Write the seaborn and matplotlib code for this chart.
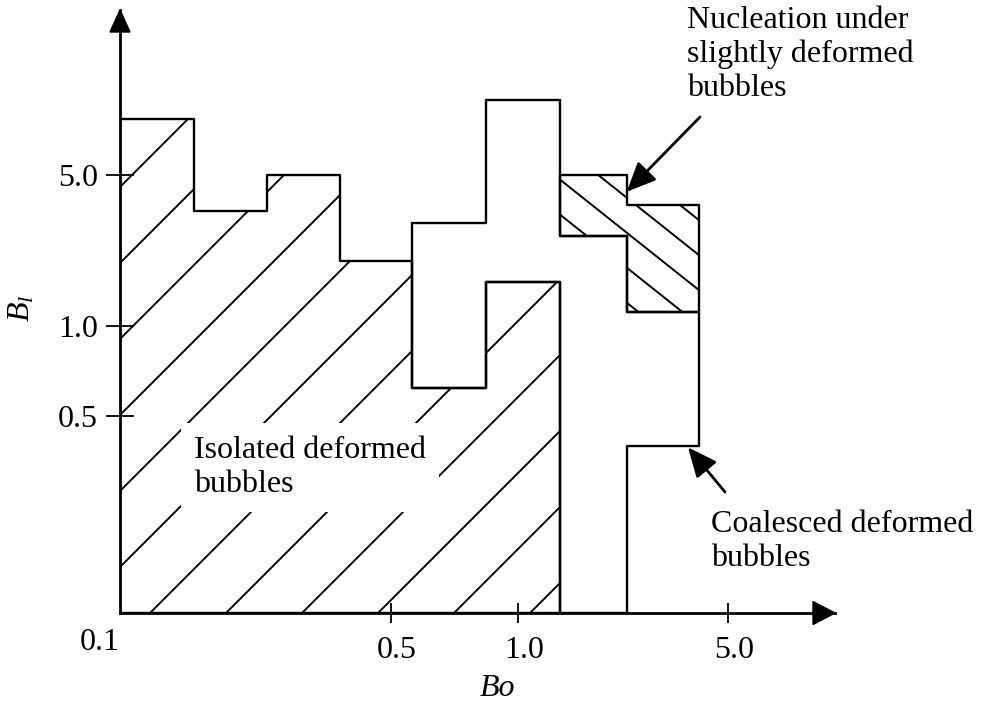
import numpy as np
import pandas as pd
import matplotlib
matplotlib.use("Agg")
import matplotlib.pyplot as plt
import matplotlib.transforms as mtransforms
from matplotlib.patches import Polygon
from matplotlib.collections import LineCollection
import seaborn as sns

# ---- regime boundaries: closed outlines in (Bo, Bl) ----
isolated_bo = [0.1, 0.155, 0.155, 0.24, 0.24, 0.37, 0.37, 0.56, 0.56, 0.84, 0.84, 1.38, 1.38, 0.1, 0.1]
isolated_bl = [9.0, 9.0, 3.4, 3.4, 5.0, 5.0, 2.0, 2.0, 0.62, 0.62, 1.6, 1.6, 0.1, 0.1, 9.0]

coalesced_bo = [0.56, 0.84, 0.84, 1.38, 1.38, 2.3, 2.3, 4.0, 4.0, 2.3, 2.3, 1.38, 1.38, 0.84, 0.84, 0.56, 0.56]
coalesced_bl = [3.0, 3.0, 11.0, 11.0, 2.6, 2.6, 1.16, 1.16, 0.39, 0.39, 0.1, 0.1, 1.6, 1.6, 0.62, 0.62, 3.0]

nucleation_bo = [1.38, 2.3, 2.3, 4.0, 4.0, 2.3, 2.3, 1.38, 1.38]
nucleation_bl = [5.0, 5.0, 3.6, 3.6, 1.16, 1.16, 2.6, 2.6, 5.0]

region_names = ["Isolated deformed\nbubbles",
                "Coalesced deformed\nbubbles",
                "Nucleation under\nslightly deformed\nbubbles"]

x_ticks = [0.5, 1.0, 5.0]
x_tick_labels = ["0.5", "1.0", "5.0"]
y_ticks = [0.5, 1.0, 5.0]
y_tick_labels = ["0.5", "1.0", "5.0"]
origin_label = "0.1"

# ---- style ----
sns.set_theme(style="white")
plt.rcParams["font.family"] = ["Liberation Serif", "DejaVu Serif"]
plt.rcParams["mathtext.fontset"] = "custom"
plt.rcParams["mathtext.rm"] = "Liberation Serif"
plt.rcParams["mathtext.it"] = "Liberation Serif:italic"
for key in ("text.color", "axes.labelcolor", "xtick.color", "ytick.color", "axes.edgecolor"):
    plt.rcParams[key] = "black"
FS = 23

W, H = 985, 704
fig = plt.figure(figsize=(W / 100, H / 100), dpi=100)
fig.patch.set_facecolor("white")
AX_L, AX_B, AX_W, AX_H = 120, 613, 715, 603   # axes box in pixels (left, bottom from top, width, height)
ax = fig.add_axes([AX_L / W, (H - AX_B) / H, AX_W / W, AX_H / H])
ax.set_facecolor("white")


# ---- schematic log axes: piecewise log scale pinned at the tick values ----
def schematic_log(vals, pos):
    lv = np.log10(np.asarray(vals, float))
    p = np.asarray(pos, float)
    s0 = (p[1] - p[0]) / (lv[1] - lv[0])
    s1 = (p[-1] - p[-2]) / (lv[-1] - lv[-2])

    def fwd(v):
        l = np.log10(np.clip(np.asarray(v, float), 1e-12, None))
        out = np.interp(l, lv, p)
        out = np.where(l < lv[0], p[0] + (l - lv[0]) * s0, out)
        out = np.where(l > lv[-1], p[-1] + (l - lv[-1]) * s1, out)
        return out

    def inv(u):
        u = np.asarray(u, float)
        l = np.interp(u, p, lv)
        l = np.where(u < p[0], lv[0] + (u - p[0]) / s0, l)
        l = np.where(u > p[-1], lv[-1] + (u - p[-1]) / s1, l)
        return 10.0 ** l

    return fwd, inv


x_fwd, x_inv = schematic_log([0.1, 0.5, 1.0, 5.0], [0, 271, 398, 608])
y_fwd, y_inv = schematic_log([0.1, 0.5, 1.0, 5.0], [0, 197, 287, 438.5])
ax.set_xscale("function", functions=(x_fwd, x_inv))
ax.set_yscale("function", functions=(y_fwd, y_inv))

# ---- region outlines ----
frames = []
for name, bo, bl in zip(region_names,
                        [isolated_bo, coalesced_bo, nucleation_bo],
                        [isolated_bl, coalesced_bl, nucleation_bl]):
    frames.append(pd.DataFrame({"Bo": bo, "Bl": bl, "region": name,
                                "step": np.arange(len(bo))}))
outline = pd.concat(frames, ignore_index=True)
sns.lineplot(data=outline, x="Bo", y="Bl", units="region", estimator=None,
             sort=False, color="black", linewidth=1.7, ax=ax, zorder=4)

ax.set_xlim(0.1, float(x_inv(AX_W)))
ax.set_ylim(0.1, float(y_inv(AX_H)))

# transforms: axes-pixel frame (origin lower-left) and image-pixel frame (origin top-left)
ax_px = mtransforms.Affine2D().scale(1 / AX_W, 1 / AX_H) + ax.transAxes
img_px = mtransforms.Affine2D().scale(1 / W, -1 / H).translate(0, 1) + fig.transFigure


def hatch(bo, bl, angle_deg, spacing, anchor, lw=1.4):
    poly = Polygon(np.column_stack([bo, bl]), closed=True, fill=False,
                   edgecolor="none", transform=ax.transData)
    ax.add_patch(poly)
    th = np.deg2rad(angle_deg)
    d = np.array([np.cos(th), np.sin(th)])
    n = np.array([-np.sin(th), np.cos(th)])
    segs = []
    for k in range(-40, 41):
        c = np.asarray(anchor, float) + k * spacing * n
        segs.append([c - 1500 * d, c + 1500 * d])
    lc = LineCollection(segs, colors="black", linewidths=lw, transform=ax_px, zorder=2)
    ax.add_collection(lc, autolim=False)
    lc.set_clip_path(poly)


hatch(isolated_bo, isolated_bl, 45, 76 * np.sin(np.deg2rad(45)), (182, 0))
hatch(nucleation_bo, nucleation_bl, -38.5, 35 * np.cos(np.deg2rad(38.5)), (438, 435))

# ---- axes with arrow heads ----
sns.despine(ax=ax)
for side in ("left", "bottom"):
    ax.spines[side].set_linewidth(2.0)
    ax.spines[side].set_color("black")
ax.add_patch(Polygon([[AX_W, 0], [AX_W - 22, 11.5], [AX_W - 22, -11.5]], closed=True,
                     facecolor="black", edgecolor="black", transform=ax_px, clip_on=False, zorder=5))
ax.add_patch(Polygon([[0, AX_H], [-10, AX_H - 22], [10, AX_H - 22]], closed=True,
                     facecolor="black", edgecolor="black", transform=ax_px, clip_on=False, zorder=5))

ax.set_xticks(x_ticks, x_tick_labels)
ax.set_yticks(y_ticks, y_tick_labels)
ax.minorticks_off()
ax.tick_params(axis="x", direction="inout", length=15, width=1.3, pad=9,
               labelsize=FS, colors="black", bottom=True)
ax.tick_params(axis="y", direction="inout", length=20, width=1.3, pad=6,
               labelsize=FS, colors="black", left=True)
shift = mtransforms.ScaledTranslation(6 / 100, 0, fig.dpi_scale_trans)
for lab in ax.get_xticklabels():
    lab.set_transform(lab.get_transform() + shift)
ax.text(0.1, 643, origin_label, fontsize=FS, ha="right", va="center", color="black",
        transform=mtransforms.blended_transform_factory(ax.transData, img_px))

ax.set_xlabel("Bo", fontsize=FS, fontstyle="italic", va="center", color="black")
ax.xaxis.set_label_coords((497 - AX_L) / AX_W, (AX_B - 688) / AX_H)
ax.set_ylabel(r"$B_l$", fontsize=FS, va="center", color="black")
ax.yaxis.set_label_coords((22 - AX_L) / AX_W, (AX_B - 308) / AX_H)

# ---- region labels ----
LS = 1.22
ax.text(194, 436, region_names[0], fontsize=FS, ha="left", va="top", transform=img_px,
        linespacing=LS, color="black", zorder=3,
        bbox=dict(boxstyle="square,pad=0.4", facecolor="white", edgecolor="none"))
ax.text(711, 510, region_names[1], fontsize=FS, ha="left", va="top", transform=img_px,
        linespacing=LS, color="black", zorder=3)
ax.text(687, 6, region_names[2], fontsize=FS, ha="left", va="top", transform=img_px,
        linespacing=LS, color="black", zorder=3)

arrow = dict(arrowstyle="-|>,head_length=18,head_width=8", mutation_scale=1,
             color="black", lw=2.0, shrinkA=0, shrinkB=0)
ax.annotate("", xy=(2.3, 4.16), xycoords="data", xytext=(700, 117),
            textcoords=img_px, arrowprops=arrow, annotation_clip=False)
ax.annotate("", xy=(3.68, 0.387), xycoords="data", xytext=(725, 492),
            textcoords=img_px, arrowprops=arrow, annotation_clip=False)

fig.savefig("out.png", dpi=100, facecolor="white")
